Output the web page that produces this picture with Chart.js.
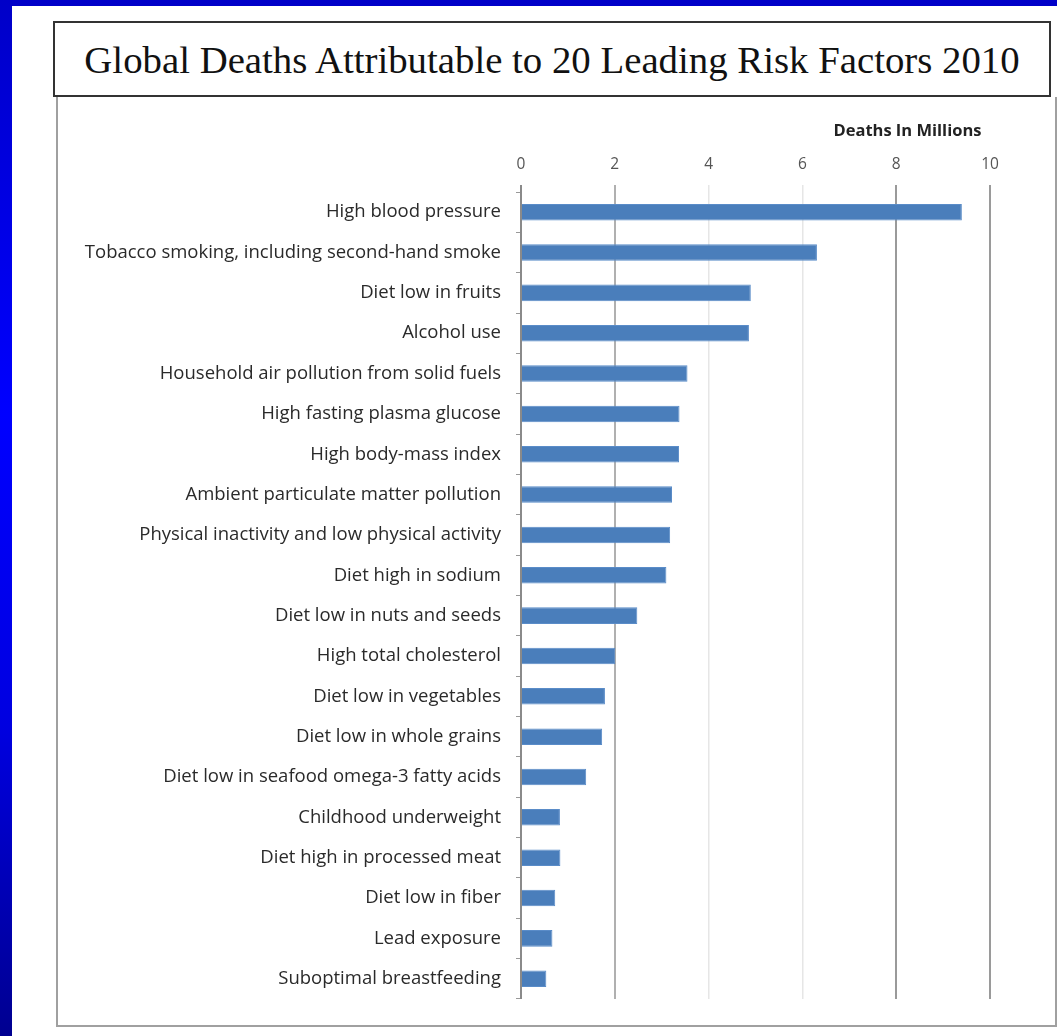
<!DOCTYPE html>
<html>
<head>
<meta charset="utf-8">
<script src="https://cdn.jsdelivr.net/npm/chart.js@4"></script>
<style>
  html, body { margin: 0; padding: 0; }
  body {
    width: 1057px; height: 1036px; overflow: hidden; position: relative;
    background: linear-gradient(to bottom, #0000c8 0%, #0000ff 40%, #0000e0 70%, #000090 100%);
  }
  #panel { position: absolute; left: 12px; top: 6px; width: 1045px; height: 1030px; background: #fff; }
  #titleBox {
    position: absolute; left: 53px; top: 21px; width: 994px; height: 72px;
    border: 2px solid #333; background: #fff;
    font-family: "Liberation Serif", "Times New Roman", serif; font-size: 38.8px; color: #111;
    display: flex; align-items: center; justify-content: center;
  }
  #chartBox {
    position: absolute; left: 56px; top: 97px; width: 997px; height: 928px;
    border: 2px solid #a0a0a0; border-top: none;
  }
</style>
</head>
<body>
<div id="panel"></div>
<div id="titleBox">Global Deaths Attributable to 20 Leading Risk Factors 2010</div>
<div id="chartBox"><canvas id="riskChart"></canvas></div>
<script>
const riskFactors = [
  "High blood pressure",
  "Tobacco smoking, including second-hand smoke",
  "Diet low in fruits",
  "Alcohol use",
  "Household air pollution from solid fuels",
  "High fasting plasma glucose",
  "High body-mass index",
  "Ambient particulate matter pollution",
  "Physical inactivity and low physical activity",
  "Diet high in sodium",
  "Diet low in nuts and seeds",
  "High total cholesterol",
  "Diet low in vegetables",
  "Diet low in whole grains",
  "Diet low in seafood omega-3 fatty acids",
  "Childhood underweight",
  "Diet high in processed meat",
  "Diet low in fiber",
  "Lead exposure",
  "Suboptimal breastfeeding"
];
const deathsMillions = [9.40, 6.31, 4.90, 4.86, 3.55, 3.38, 3.37, 3.22, 3.18, 3.10,
                        2.48, 2.01, 1.79, 1.73, 1.39, 0.83, 0.84, 0.73, 0.67, 0.54];
const tickValues = [0, 2, 4, 6, 8, 10];
const gridColors = ["#8a8a8a", "#b0b0b0", "#e6e6e6", "#e6e6e6", "#9a9a9a", "#9a9a9a"];

const labelFont = { family: "'Open Sans', sans-serif", size: 18.5 };

new Chart(document.getElementById("riskChart"), {
  type: "bar",
  data: {
    labels: riskFactors,
    datasets: [{
      data: deathsMillions,
      backgroundColor: "#4a7ebb",
      borderColor: "#5a8cc8",
      borderWidth: 1,
      barPercentage: 0.41,
      categoryPercentage: 1
    }]
  },
  options: {
    indexAxis: "y",
    responsive: true,
    maintainAspectRatio: false,
    animation: false,
    layout: { padding: { top: 0, right: 65, bottom: 20, left: 0 } },
    plugins: { legend: { display: false }, tooltip: { enabled: false } },
    scales: {
      x: {
        position: "top",
        min: 0, max: 10,
        afterBuildTicks: s => { s.ticks = tickValues.map(v => ({ value: v })); },
        afterFit: s => { s.height = 95; },
        ticks: { color: "#555", font: { family: "'Open Sans', sans-serif", size: 15.5 }, padding: 11 },
        grid: {
          color: ctx => gridColors[ctx.index] || "#ccc",
          lineWidth: ctx => (ctx.index === 2 || ctx.index === 3) ? 1.5 : 2,
          tickLength: 7,
          drawTicks: true
        },
        border: { display: false },
        title: {
          display: true, text: "Deaths In Millions  ", align: "end",
          color: "#222", font: { family: "'Open Sans', sans-serif", size: 16.5, weight: "bold" },
          padding: { top: 24, bottom: 0 }
        }
      },
      y: {
        afterFit: s => { s.width = 463; },
        ticks: { color: "#2a2a2a", font: labelFont, padding: 15 },
        grid: { drawOnChartArea: false, tickLength: 5, color: "#999" },
        border: { display: true, color: "#8a8a8a", width: 2 }
      }
    }
  }
});
</script>
</body>
</html>
